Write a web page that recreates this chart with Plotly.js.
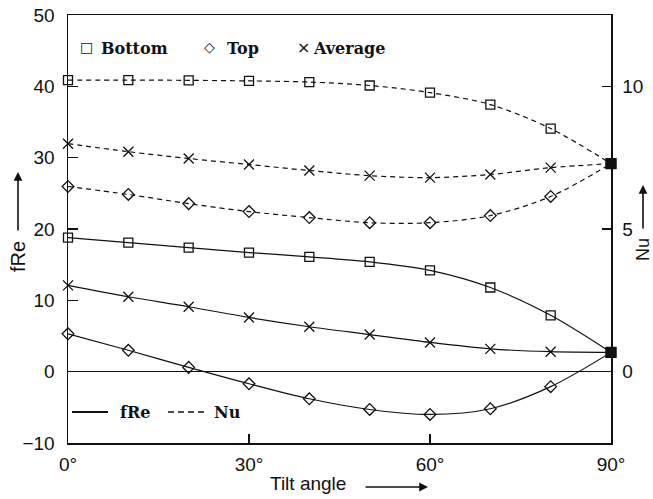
<!DOCTYPE html>
<html>
<head>
<meta charset="utf-8">
<script src="https://cdn.plot.ly/plotly-3.0.1.min.js"></script>
<style>html,body{margin:0;padding:0;background:#fff;}#chart{width:653px;height:499px;}</style>
</head>
<body>
<div id="chart"></div>
<script>
const angles = [0, 10, 20, 30, 40, 50, 60, 70, 80, 90];
const fReBottom  = [18.8, 18.1, 17.4, 16.7, 16.1, 15.4, 14.2, 11.8, 7.9, 2.7];
const fReAverage = [12.1, 10.5, 9.1, 7.6, 6.3, 5.2, 4.1, 3.2, 2.8, 2.7];
const fReTop     = [5.3, 3.0, 0.6, -1.7, -3.8, -5.3, -6.0, -5.2, -2.1, 2.7];
const nuBottom   = [10.22, 10.22, 10.21, 10.19, 10.15, 10.03, 9.78, 9.36, 8.52, 7.29];
const nuAverage  = [7.99, 7.71, 7.47, 7.26, 7.05, 6.87, 6.80, 6.91, 7.15, 7.29];
const nuTop      = [6.49, 6.21, 5.89, 5.61, 5.40, 5.22, 5.22, 5.47, 6.14, 7.29];
const xTickVals = [0, 30, 60, 90];
const xTickText = ['0°', '30°', '60°', '90°'];
const yTickVals = [-10, 0, 10, 20, 30, 40, 50];
const y2TickVals = [0, 5, 10];

const INK = '#111';
function syms(base) {
  return angles.map((a, i) => i === angles.length - 1 ? 'square' : base);
}
function trace(y, base, dashed, axis) {
  return {
    x: angles, y: y, yaxis: axis, type: 'scatter', mode: 'lines+markers',
    line: {color: INK, width: 1.2, shape: 'spline', smoothing: 0.9, dash: dashed ? '5px,4px' : 'solid'},
    marker: {symbol: syms(base), size: base === 'x-thin-open' ? 10 : 9, color: INK,
             line: {color: INK, width: 1.3}},
    cliponaxis: false, hoverinfo: 'skip'
  };
}
const data = [
  trace(fReBottom, 'square-open', false, 'y'),
  trace(fReAverage, 'x-thin-open', false, 'y'),
  trace(fReTop, 'diamond-open', false, 'y'),
  trace(nuBottom, 'square-open', true, 'y2'),
  trace(nuAverage, 'x-thin-open', true, 'y2'),
  trace(nuTop, 'diamond-open', true, 'y2')
];

const L = 68, R = 611, T = 15, B = 443;
const px = v => (v - L) / (R - L);
const py = v => (B - v) / (B - T);
const serif = {family: 'DejaVu Serif, Liberation Serif, serif', size: 16, color: INK};
const sym = {family: 'DejaVu Sans, sans-serif', size: 14, color: INK};
const sans = {family: 'Liberation Sans, Arial, sans-serif', size: 19, color: INK};

function txt(t, x, y, font, extra) {
  return Object.assign({text: t, xref: 'paper', yref: 'paper', x: px(x), y: py(y),
    xanchor: 'left', yanchor: 'middle', showarrow: false, font: font}, extra || {});
}
function arrow(x, y, ax, ay) {
  return {text: '', xref: 'paper', yref: 'paper', x: px(x), y: py(y), ax: ax, ay: ay,
    showarrow: true, arrowhead: 2, arrowsize: 1.1, arrowwidth: 1.6, arrowcolor: INK};
}

const annotations = [
  txt('□', 78, 47, sym),
  txt('<b>Bottom</b>', 99, 48, serif),
  txt('◇', 202, 47, sym),
  txt('<b>Top</b>', 225, 48, serif),
  txt('×', 295, 47, {family: 'DejaVu Sans, sans-serif', size: 16, color: INK}),
  txt('<b>Average</b>', 311, 48, serif),
  txt('<b>fRe</b>', 118, 412, serif),
  txt('<b>Nu</b>', 212, 412, serif),
  txt('fRe', 18, 257, Object.assign({}, sans, {size: 20}), {textangle: -90, xanchor: 'center'}),
  arrow(18, 172, 0, 60),
  txt('Tilt angle', 268, 484, Object.assign({}, sans, {size: 19})),
  arrow(428, 487, -64, 0),
  txt('Nu', 643, 250, Object.assign({}, sans, {size: 18}), {textangle: -90, xanchor: 'center'}),
  arrow(643, 185, 0, 45)
];

const shapes = [
  {type: 'line', xref: 'paper', yref: 'paper', x0: px(72), x1: px(108), y0: py(412), y1: py(412),
   line: {color: INK, width: 2}},
  {type: 'line', xref: 'paper', yref: 'paper', x0: px(168), x1: px(205), y0: py(412), y1: py(412),
   line: {color: INK, width: 1.4, dash: '6px,4px'}}
];

const layout = {
  width: 653, height: 499,
  margin: {l: L, r: 653 - R, t: T, b: 499 - B, pad: 0},
  paper_bgcolor: '#fff', plot_bgcolor: '#fff',
  showlegend: false,
  font: sans,
  xaxis: {range: [0, 90], tickvals: xTickVals, ticktext: xTickText, ticks: 'inside', ticklen: 9,
          tickwidth: 1.3, tickcolor: INK, showline: true, linecolor: INK, linewidth: 1.5,
          mirror: true, showgrid: false, zeroline: false, ticklabelstandoff: 4,
          tickfont: sans, fixedrange: true},
  yaxis: {range: [-10, 50], tickvals: yTickVals, ticks: 'inside', ticklen: 10, tickwidth: 1.3,
          tickcolor: INK, showline: true, linecolor: INK, linewidth: 1.5, showgrid: false,
          zeroline: true, zerolinecolor: INK, zerolinewidth: 1.2, ticklabelstandoff: 8,
          tickfont: sans, fixedrange: true},
  yaxis2: {range: [-2.5, 12.5], tickvals: y2TickVals, overlaying: 'y', side: 'right',
           ticks: 'inside', ticklen: 9, tickwidth: 1.3, tickcolor: INK, showline: true,
           linecolor: INK, linewidth: 1.5, showgrid: false, zeroline: false,
           ticklabelstandoff: 6, tickfont: sans, fixedrange: true},
  annotations: annotations,
  shapes: shapes
};

Plotly.newPlot('chart', data, layout, {staticPlot: true, displayModeBar: false});
</script>
</body>
</html>
